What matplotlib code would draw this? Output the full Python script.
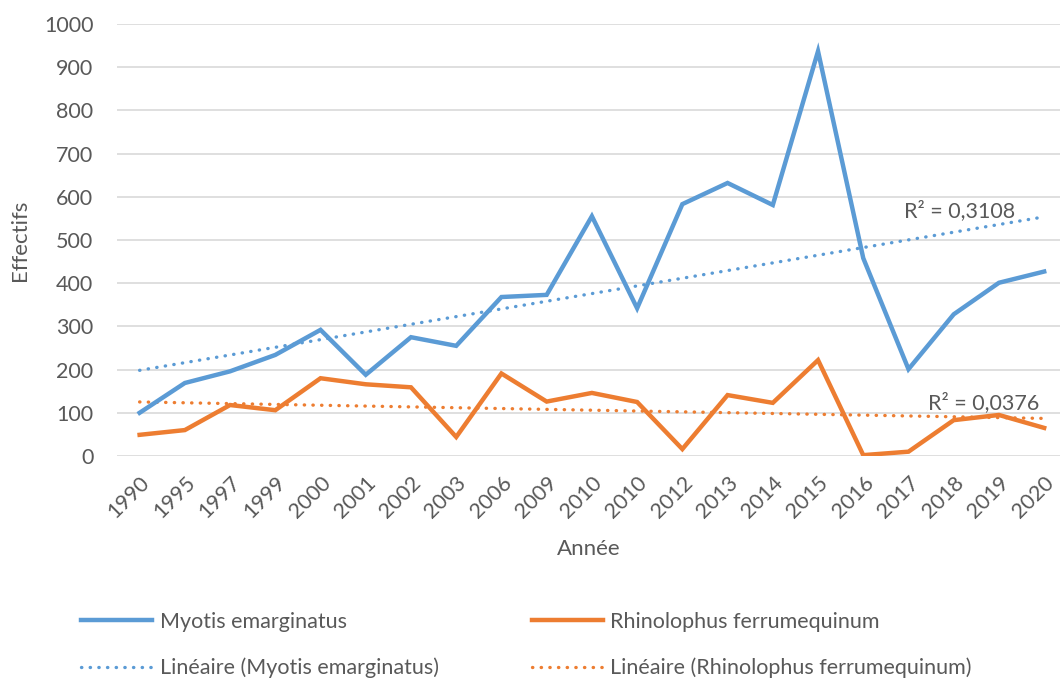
import numpy as np
import matplotlib
matplotlib.use("Agg")
import matplotlib.pyplot as plt

plt.rcParams['font.family'] = ['Lato', 'DejaVu Sans']

# data
years = ["1990", "1995", "1997", "1999", "2000", "2001", "2002", "2003", "2006", "2009",
         "2010", "2010", "2012", "2013", "2014", "2015", "2016", "2017", "2018", "2019", "2020"]
myotis = [100, 169, 196, 234, 292, 188, 275, 255, 368, 373,
          555, 342, 583, 632, 581, 937, 458, 201, 328, 401, 427]
rhino = [49, 60, 118, 106, 180, 166, 159, 44, 191, 126,
         146, 125, 16, 141, 123, 222, 2, 10, 83, 95, 65]
r2_labels = ["R² = 0,3108", "R² = 0,0376"]

blue = "#5B9BD5"
orange = "#ED7D31"
txt = "#595959"
grid = "#D9D9D9"
fs = 15.5

fig = plt.figure(figsize=(10.6, 6.79), dpi=100)
ax = fig.add_axes([117/1060, (679-456)/679, (1060-117)/1060, 432/679])

x = np.arange(len(years))

# Excel style linear trend lines (x = 1..n)
xt = x + 1
pb = np.polyfit(xt, myotis, 1)
po = np.polyfit(xt, rhino, 1)

lm, = ax.plot(x, myotis, color=blue, lw=3.2, solid_joinstyle='miter', label="Myotis emarginatus", zorder=3)
lr, = ax.plot(x, rhino, color=orange, lw=3.2, solid_joinstyle='miter', label="Rhinolophus ferrumequinum", zorder=3)
tm, = ax.plot(x, np.polyval(pb, xt), color=blue, lw=2.4, ls=(0, (0.1, 2.5)),
              dash_capstyle='round', label="Linéaire (Myotis emarginatus)", zorder=2)
tr, = ax.plot(x, np.polyval(po, xt), color=orange, lw=2.4, ls=(0, (0.1, 2.5)),
              dash_capstyle='round', label="Linéaire (Rhinolophus ferrumequinum)", zorder=2)

ax.text(19.35, 567, r2_labels[0], ha='right', va='center', fontsize=fs, color=txt)
ax.text(19.9, 124, r2_labels[1], ha='right', va='center', fontsize=fs, color=txt)

ax.set_xlim(-0.5, 20.35)
ax.set_ylim(0, 1000)
ax.set_yticks(range(0, 1001, 100))
ax.set_xticks(x)
ax.set_xticklabels(years, rotation=45, ha='right', rotation_mode='anchor')
ax.tick_params(axis='both', length=0, labelsize=fs, labelcolor=txt)
ax.tick_params(axis='y', pad=17)
ax.tick_params(axis='x', pad=12)
ax.grid(axis='y', color=grid, lw=1.2)
ax.set_axisbelow(True)
for s in ax.spines.values():
    s.set_visible(False)

ax.set_xlabel("Année", fontsize=fs + 0.5, color=txt, labelpad=12)
ax.set_ylabel("Effectifs", fontsize=fs + 0.5, color=txt, labelpad=10)

fig.legend(handles=[lm, tm, lr, tr], ncol=2, loc='center left',
           bbox_to_anchor=(62/1060, 1 - 645/679), frameon=False,
           fontsize=fs, labelcolor=txt, handlelength=3.3, handletextpad=0.35,
           columnspacing=4.3, labelspacing=1.2)

fig.savefig("out.png", dpi=100)
